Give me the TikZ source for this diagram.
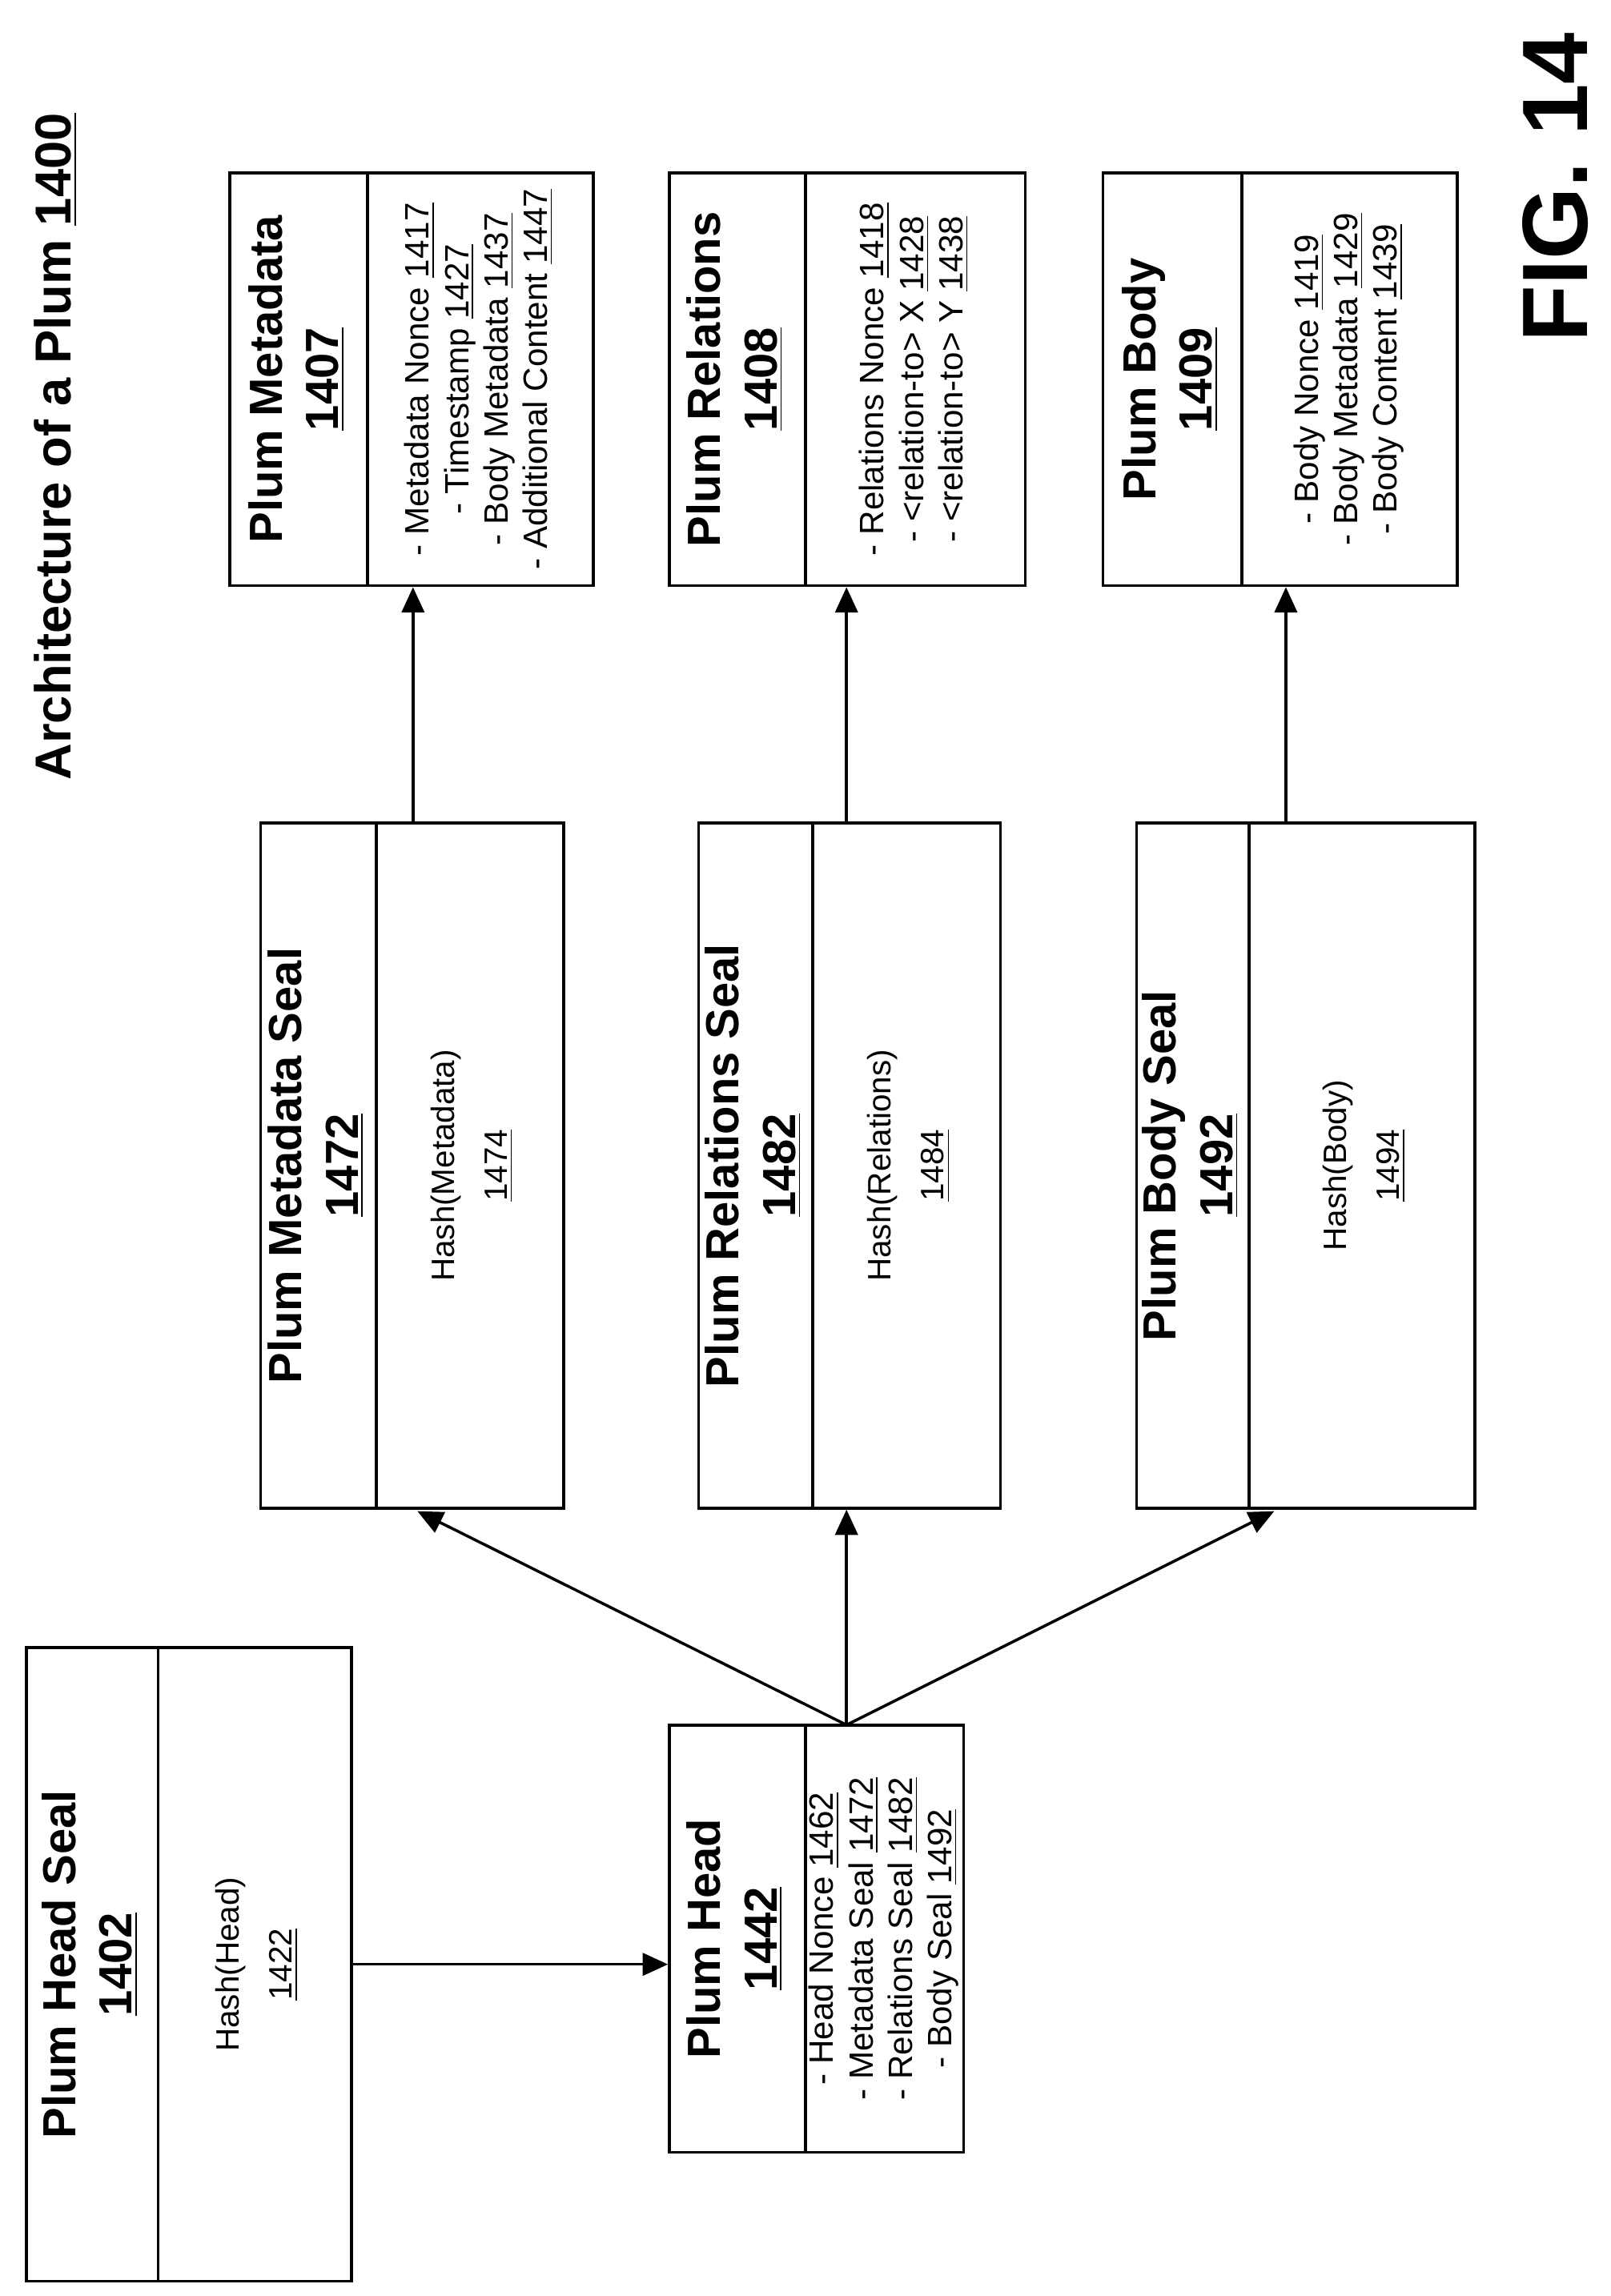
\documentclass[tikz,border=0pt]{standalone}
\usepackage{fontspec}
\setmainfont{Liberation Sans}
\usepackage{tikz}
\usetikzlibrary{arrows.meta, positioning, calc}

\newcommand{\vtext}[1]{\rotatebox{90}{\begin{tabular}{@{}c@{}}#1\end{tabular}}}
\newcommand{\ul}[1]{\underline{#1}}

\tikzset{
  part/.style={draw, line width=1pt, inner sep=0pt},
  ttl/.style={font=\bfseries\fontsize{16.5}{20}\selectfont},
  lst/.style={font=\fontsize{12}{14}\selectfont},
  hsh/.style={font=\fontsize{11.5}{19}\selectfont},
  link/.style={line width=1pt, -{Triangle[length=9pt, width=8pt]}}
}

\begin{document}
\begin{tikzpicture}[x=0.0183cm, y=-0.0183cm]
				\useasboundingbox (0,0) rectangle (1100,1568);
				
				% Title and figure label
				\node[font=\bfseries\fontsize{18}{22}\selectfont] (title) at (38,305) {\rotatebox{90}{Architecture of a Plum \ul{1400}}};
				\node[font=\bfseries\fontsize{33}{38}\selectfont] (fig) at (1062,128) {\rotatebox{90}{FIG. 14}};
				
				% Plum head seal
				\node[part, ttl, minimum width=1.647cm, minimum height=7.92cm] (hs1) at (63,1341.5) {\vtext{Plum Head Seal\\ \ul{1402}}};
				\node[part, hsh, minimum width=2.416cm, minimum height=7.92cm] (hs2) at (174,1341.5) {\vtext{Hash(Head)\\ \ul{1422}}};
				
				% Plum head
				\node[part, ttl, minimum width=1.70cm, minimum height=5.34cm] (hd1) at (503.5,1324) {\vtext{Plum Head\\ \ul{1442}}};
				\node[part, lst, minimum width=1.976cm, minimum height=5.34cm] (hd2) at (604,1324) {\vtext{- Head Nonce \ul{1462}\\ - Metadata Seal \ul{1472}\\ - Relations Seal \ul{1482}\\ - Body Seal \ul{1492}}};
				
				% Seals
				\node[part, ttl, minimum width=1.446cm, minimum height=8.56cm] (ms1) at (217.5,796) {\vtext{Plum Metadata Seal\\ \ul{1472}}};
				\node[part, hsh, minimum width=2.342cm, minimum height=8.56cm] (ms2) at (321,796) {\vtext{Hash(Metadata)\\ \ul{1474}}};
				\node[part, ttl, minimum width=1.427cm, minimum height=8.56cm] (rs1) at (516,796) {\vtext{Plum Relations Seal\\ \ul{1482}}};
				\node[part, hsh, minimum width=2.342cm, minimum height=8.56cm] (rs2) at (619,796) {\vtext{Hash(Relations)\\ \ul{1484}}};
				\node[part, ttl, minimum width=1.409cm, minimum height=8.56cm] (bs1) at (814.5,796) {\vtext{Plum Body Seal\\ \ul{1492}}};
				\node[part, hsh, minimum width=2.818cm, minimum height=8.56cm] (bs2) at (930,796) {\vtext{Hash(Body)\\ \ul{1494}}};
				
				% Contents
				\node[part, ttl, minimum width=1.72cm, minimum height=5.16cm] (md1) at (204,259) {\vtext{Plum Metadata\\ \ul{1407}}};
				\node[part, lst, minimum width=2.818cm, minimum height=5.16cm] (md2) at (328,259) {\vtext{- Metadata Nonce \ul{1417}\\ - Timestamp \ul{1427}\\ - Body Metadata \ul{1437}\\ - Additional Content \ul{1447}}};
				\node[part, ttl, minimum width=1.70cm, minimum height=5.16cm] (rl1) at (503.5,259) {\vtext{Plum Relations\\ \ul{1408}}};
				\node[part, lst, minimum width=2.745cm, minimum height=5.16cm] (rl2) at (625,259) {\vtext{- Relations Nonce \ul{1418}\\ - <relation-to> X \ul{1428}\\ - <relation-to> Y \ul{1438}}};
				\node[part, ttl, minimum width=1.739cm, minimum height=5.16cm] (bd1) at (800.5,259) {\vtext{Plum Body\\ \ul{1409}}};
				\node[part, lst, minimum width=2.69cm, minimum height=5.16cm] (bd2) at (921.5,259) {\vtext{- Body Nonce \ul{1419}\\ - Body Metadata \ul{1429}\\ - Body Content \ul{1439}}};
				
				% Connectors
				\coordinate (hdtop) at (578,1178);
				\draw[link] (hs2.east) -- (hs2.east -| hd1.west);
				\draw[link] (hdtop) -- (285,1032) coordinate (msbot);
				\draw[link] (hdtop) -- (hdtop |- rs2.south);
				\draw[link] (hdtop) -- (870,1032) coordinate (bsbot);
				\draw[link] (282,562) coordinate (mstop) -- (mstop |- md2.south);
				\draw[link] (578,562) coordinate (rstop) -- (rstop |- rl2.south);
				\draw[link] (878,562) coordinate (bstop) -- (bstop |- bd2.south);
			\end{tikzpicture}
\end{document}
